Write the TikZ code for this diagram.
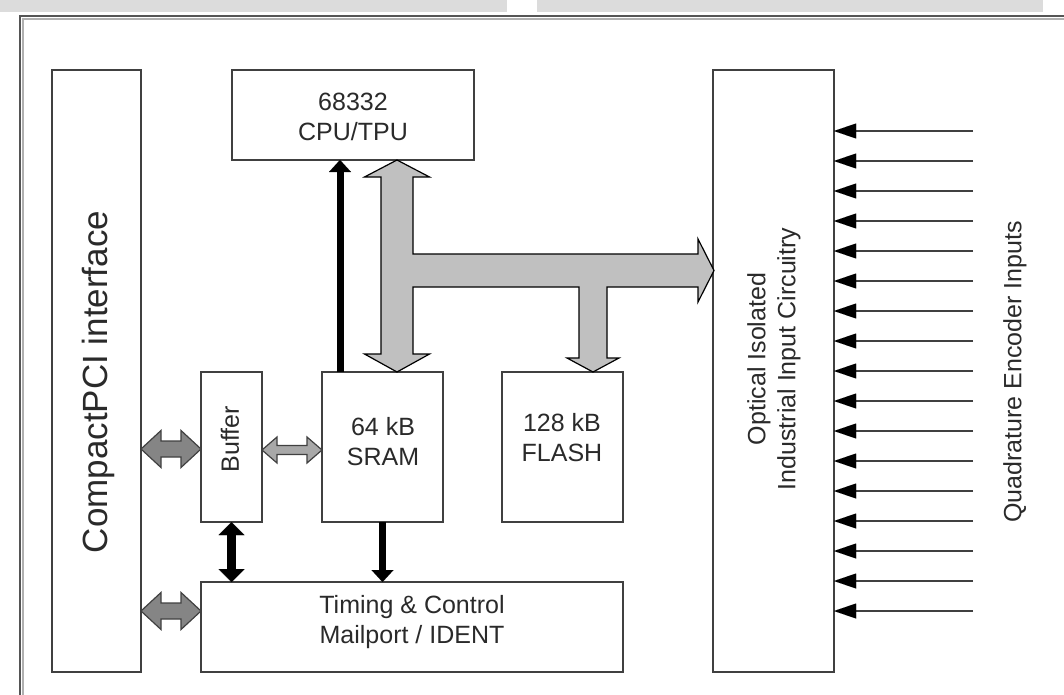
\documentclass[tikz,border=0pt]{standalone}
\usepackage{fontspec}
\setmainfont{Liberation Sans}
\usetikzlibrary{arrows.meta}
\definecolor{edge}{HTML}{404040}
\definecolor{busfill}{HTML}{C0C0C0}
\definecolor{midfill}{HTML}{858585}
\definecolor{lightfill}{HTML}{A8A8A8}
\definecolor{barfill}{HTML}{DCDCDC}
\definecolor{txt}{HTML}{2A2A2A}
\definecolor{frameA}{HTML}{555555}
\definecolor{frameB}{HTML}{B0B0B0}
\newcommand\hdblarrow[7]{% x1, x2, y, shaft half, head half, head length, style
  \filldraw[#7] (#1,#3) -- ({#1+#6},{#3-#5}) -- ({#1+#6},{#3-#4}) -- ({#2-#6},{#3-#4})
    -- ({#2-#6},{#3-#5}) -- (#2,#3) -- ({#2-#6},{#3+#5}) -- ({#2-#6},{#3+#4})
    -- ({#1+#6},{#3+#4}) -- ({#1+#6},{#3+#5}) -- cycle;}
\tikzset{
  box/.style={draw=edge, line width=1.8pt, fill=white, inner sep=0pt, outer sep=0pt},
  lbl/.style={font=\fontsize{25}{30}\selectfont, text=txt, align=center, inner sep=0pt},
  biglbl/.style={font=\fontsize{35}{40}\selectfont, text=txt, align=center, inner sep=0pt},
  blkarrow/.style={line width=7pt, draw=black, -{Triangle[length=12pt,width=22pt,line width=0.01pt]}},
  blkdbl/.style={line width=9pt, draw=black, {Triangle[length=13pt,width=26pt,line width=0.01pt]}-{Triangle[length=13pt,width=26pt,line width=0.01pt]}},
  inarrow/.style={line width=2pt, draw=edge, -{Triangle[length=22pt,width=15pt,color=black,line width=0.01pt]}},
  bus/.style={fill=busfill, draw=black, line width=1.2pt, line join=miter},
  darrowA/.style={fill=midfill, draw=edge, line width=1.2pt},
  darrowB/.style={fill=lightfill, draw=edge, line width=1.2pt},
}
\begin{document}
\begin{tikzpicture}[x=1pt,y=-1pt]
\useasboundingbox (0,0) rectangle (1064,695);
% top bars
\fill[barfill] (0,0) rectangle (507,12);
\fill[barfill] (537,0) rectangle (1043,12);
% frame
\draw[frameB, line width=2pt] (23,720) -- (23,19) -- (1090,19);
\draw[frameA, line width=2pt] (20,720) -- (20,16) -- (1090,16);
% boxes
\node[box, minimum width=242pt, minimum height=90pt] (cpu) at (353,115) {};
\node[box, minimum width=89pt, minimum height=602pt] (pci) at (96.5,371) {};
\node[box, minimum width=61pt, minimum height=150pt] (buffer) at (231.5,447) {};
\node[box, minimum width=121pt, minimum height=150pt] (sram) at (382.5,447) {};
\node[box, minimum width=121pt, minimum height=150pt] (flash) at (562.5,447) {};
\node[box, minimum width=422pt, minimum height=90pt] (timing) at (412,627) {};
\node[box, minimum width=121pt, minimum height=602pt] (optical) at (773.5,371) {};
% texts
\node[lbl] (cputxt) at (353,117) {68332\\CPU/TPU};
\node[biglbl, rotate=90] (pcitxt) at (98,382) {CompactPCI interface};
\node[lbl, rotate=90] (buftxt) at (230,439) {Buffer};
\node[lbl] (sramtxt) at (383,442) {64 kB\\SRAM};
\node[lbl] (flashtxt) at (562,438) {128 kB\\FLASH};
\node[lbl] (timtxt) at (412,622) {Timing \& Control\\Mailport / IDENT};
\node[lbl, rotate=90] (opttxt) at (774,359) {Optical Isolated\\Industrial Input Circuitry};
\node[lbl, rotate=90] (quadtxt) at (1015,372) {Quadrature Encoder Inputs};
% black arrows
\coordinate (ax) at (340,0);
\draw[blkarrow] (sram.north -| ax) -- (cpu.south -| ax);
\draw[blkdbl] (buffer.south) -- (buffer.south |- timing.north);
\draw[blkarrow] (sram.south) -- (sram.south |- timing.north);
% data bus
\filldraw[bus] (397,160) -- (429.5,177) -- (413,177) -- (413,254) -- (698,254) -- (698,239)
  -- (714,270.5) -- (698,302) -- (698,287) -- (607,287) -- (607,358) -- (619,358)
  -- (593,372) -- (567,358) -- (579,358) -- (579,287) -- (413,287) -- (413,354)
  -- (429.5,354) -- (397,372) -- (364.5,354) -- (381,354) -- (381,177) -- (364.5,177) -- cycle;
% gray double arrows
\hdblarrow{141}{201}{449}{8}{18.5}{20}{darrowA}
\hdblarrow{141}{201}{611}{8}{18.5}{20}{darrowA}
\hdblarrow{262}{322}{450}{4.5}{13}{15}{darrowB}
% inputs
\foreach \k in {0,...,16} {
  \coordinate (in\k) at (973,{131+30*\k});
  \draw[inarrow] (in\k) -- (in\k -| optical.east);
}
\end{tikzpicture}
\end{document}
